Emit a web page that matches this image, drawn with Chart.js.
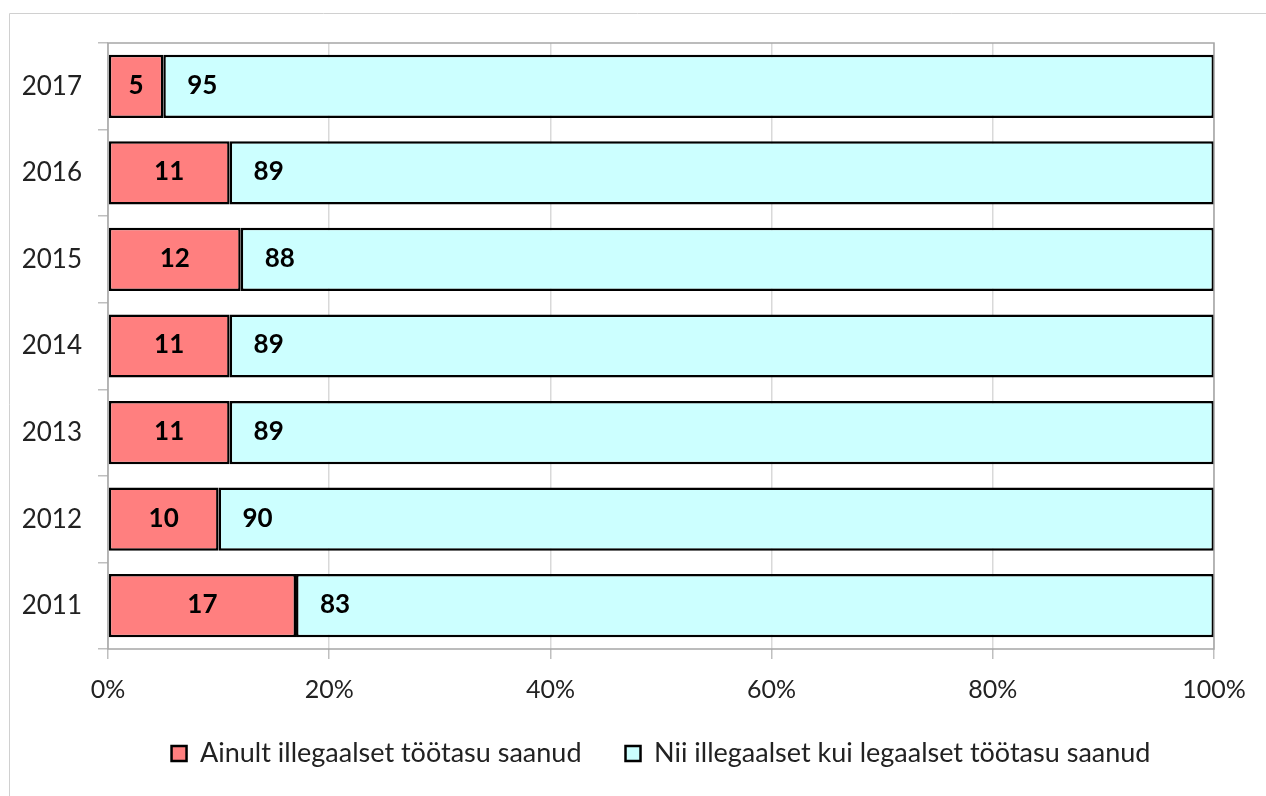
<!DOCTYPE html>
<html>
<head>
<meta charset="utf-8">
<script src="https://cdn.jsdelivr.net/npm/chart.js@4"></script>
<style>
html,body{margin:0;padding:0;background:#fff;}
#wrap{width:1266px;height:796px;position:relative;}
</style>
</head>
<body>
<div id="wrap"><canvas id="c" width="1266" height="796"></canvas></div>
<script>
const years = ['2017','2016','2015','2014','2013','2012','2011'];
const onlyIllegal = [5, 11, 12, 11, 11, 10, 17];
const bothIllegalLegal = [95, 89, 88, 89, 89, 90, 83];
const xTicks = ['0%','20%','40%','60%','80%','100%'];
const seriesNames = ['Ainult illegaalset töötasu saanud', 'Nii illegaalset kui legaalset töötasu saanud'];

const FONT = 'Lato, "Open Sans", sans-serif';

const outerBorder = {
  id: 'outerBorder',
  afterLayout(chart) {
    if (chart.legend) {
      chart.legend.left = chart.chartArea.left;
    }
    if (chart.scales.x) {
      chart.scales.x._computeLabelArea = () => null;
    }
  },
  beforeDraw(chart) {
    const ctx = chart.ctx;
    ctx.save();
    ctx.strokeStyle = '#d0d0d0';
    ctx.lineWidth = 1;
    ctx.beginPath();
    ctx.moveTo(9.5, 796);
    ctx.lineTo(9.5, 13.5);
    ctx.lineTo(1266, 13.5);
    ctx.stroke();
    ctx.restore();
  },
  afterDatasetsDraw(chart) {
    const a = chart.chartArea;
    const ctx = chart.ctx;
    ctx.save();
    ctx.strokeStyle = '#a6a6a6';
    ctx.lineWidth = 1.5;
    ctx.strokeRect(a.left, a.top, a.right - a.left, a.bottom - a.top);
    ctx.restore();
  }
};

const barLabels = {
  id: 'barLabels',
  afterDraw(chart) {
    const ctx = chart.ctx;
    ctx.save();
    ctx.font = 'bold 26px ' + FONT;
    ctx.fillStyle = '#000';
    ctx.textBaseline = 'middle';
    ctx.textAlign = 'center';
    chart.data.datasets.forEach((ds, di) => {
      const meta = chart.getDatasetMeta(di);
      meta.data.forEach((el, i) => {
        const v = ds.data[i];
        let x;
        if (di === 0) {
          x = (el.base + el.x) / 2;
        } else {
          x = el.base + 39;
        }
        ctx.fillText(String(v), x, el.y - 1);
      });
    });
    ctx.restore();
  }
};

new Chart(document.getElementById('c'), {
  type: 'bar',
  data: {
    labels: years,
    datasets: [
      {
        label: seriesNames[0],
        data: onlyIllegal,
        backgroundColor: '#FF7F7F',
        borderColor: '#000',
        borderWidth: 2.5,
        borderSkipped: false,
        barPercentage: 1,
        categoryPercentage: 0.73
      },
      {
        label: seriesNames[1],
        data: bothIllegalLegal,
        backgroundColor: '#CCFFFF',
        borderColor: '#000',
        borderWidth: 2.5,
        borderSkipped: false,
        barPercentage: 1,
        categoryPercentage: 0.73
      }
    ]
  },
  options: {
    indexAxis: 'y',
    responsive: false,
    animation: false,
    devicePixelRatio: 1,
    layout: { padding: { left: 0, right: 52, top: 43, bottom: 19 } },
    scales: {
      x: {
        stacked: true,
        min: 0,
        max: 100,
        ticks: {
          stepSize: 20,
          color: '#222',
          font: { family: FONT, size: 25 },
          padding: 16,
          callback: (v, i) => xTicks[i]
        },
        grid: {
          color: '#d9d9d9',
          lineWidth: 1.5,
          tickLength: 10,
          tickColor: '#bfbfbf'
        },
        border: { display: false },
        afterFit(s) { s.height = 47; }
      },
      y: {
        stacked: true,
        ticks: {
          color: '#222',
          font: { family: FONT, size: 26 },
          padding: 16
        },
        grid: {
          drawOnChartArea: false,
          tickLength: 10,
          color: '#bfbfbf',
          lineWidth: 1.5
        },
        border: { display: false },
        afterFit(s) { s.width = 108; }
      }
    },
    plugins: {
      legend: {
        position: 'bottom',
        labels: {
          color: '#222',
          font: { family: FONT, size: 27 },
          boxWidth: 15,
          boxHeight: 15,
          padding: 44
        }
      },
      tooltip: { enabled: false }
    }
  },
  plugins: [outerBorder, barLabels]
});
</script>
</body>
</html>
